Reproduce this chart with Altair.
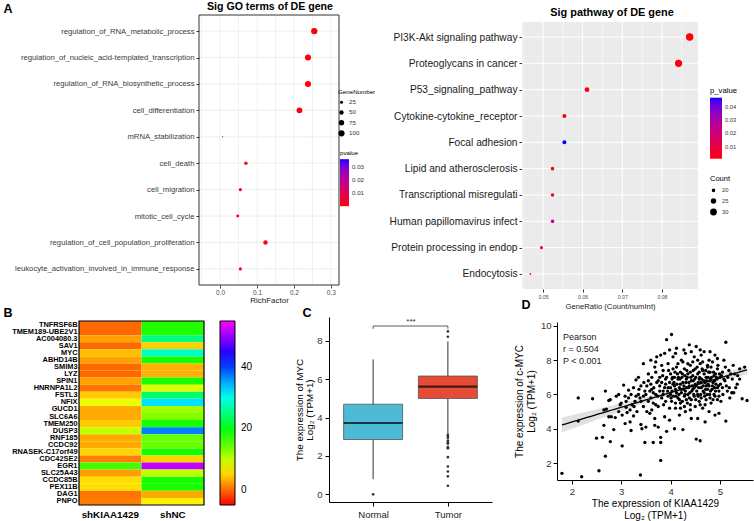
import altair as alt
import numpy as np
import pandas as pd

FONT = "Liberation Sans, Arial, Helvetica, sans-serif"

# ---------------- Panel A (left): GO terms ----------------
go_terms = [
    "regulation_of_RNA_metabolic_process",
    "regulation_of_nucleic_acid-templated_transcription",
    "regulation_of_RNA_biosynthetic_process",
    "cell_differentiation",
    "mRNA_stabilization",
    "cell_death",
    "cell_migration",
    "mitotic_cell_cycle",
    "regulation_of_cell_population_proliferation",
    "leukocyte_activation_involved_in_immune_response",
]
go_rich = [0.255, 0.238, 0.238, 0.215, 0.007, 0.070, 0.055, 0.048, 0.123, 0.055]
go_genes = [105, 98, 98, 90, 3, 30, 24, 22, 50, 24]
go_p = [0.0002, 0.0003, 0.0003, 0.0005, 0.036, 0.0008, 0.0012, 0.0015, 0.0006, 0.0010]
go_xticks = [0.0, 0.1, 0.2, 0.3]
go_grid = [-0.05, 0.0, 0.05, 0.1, 0.15, 0.2, 0.25, 0.3]

# ---------------- Panel A (right): KEGG ----------------
kegg_terms = [
    "PI3K-Akt signaling pathway",
    "Proteoglycans in cancer",
    "P53_signaling_pathway",
    "Cytokine-cytokine_receptor",
    "Focal adhesion",
    "Lipid and atherosclerosis",
    "Transcriptional misregulati",
    "Human papillomavirus infect",
    "Protein processing in endop",
    "Endocytosis",
]
kegg_ratio = [0.0870, 0.0842, 0.0611, 0.0554, 0.0554, 0.0524, 0.0524, 0.0524, 0.0496, 0.0468]
kegg_count = [33, 32, 23, 21, 21, 20, 20, 20, 19, 17]
kegg_p = [0.0012, 0.0015, 0.0020, 0.0030, 0.0468, 0.0035, 0.0035, 0.0220, 0.0040, 0.0010]
kegg_xticks = [0.05, 0.06, 0.07, 0.08]
kegg_minor = [0.045, 0.055, 0.065, 0.075, 0.085]

# ---------------- Panel B: heatmap ----------------
heat_genes = [
    "TNFRSF6B", "TMEM189-UBE2V1", "AC004080.3", "SAV1", "MYC", "ABHD14B",
    "SMIM3", "LYZ", "SPIN1", "HNRNPA1L2", "FSTL3", "NFIX", "GUCD1", "SLC6A6",
    "TMEM250", "DUSP3", "RNF185", "CCDC92", "RNASEK-C17orf49", "CDC42SE2",
    "EGR1", "SLC25A43", "CCDC85B", "PEX11B", "DAG1", "PNPO",
]
heat_groups = ["shKIAA1429", "shNC"]
heat_shKIAA = [0.0, 0.0, 2.6, 0.0, 4.0, 2.6, 0.0, 0.0, 2.6, 0.5, 4.5, 7.8, 3.0,
               3.0, 4.5, 9.6, 3.0, 3.0, 5.0, 1.0, 16.0, 2.5, 5.5, 5.5, 0.5, 1.0]
heat_shNC = [17.5, 17.5, 25.0, 4.8, 28.4, 18.0, 3.3, 3.3, 18.0, 8.4, 24.0, 32.4,
             11.4, 13.0, 18.0, 37.0, 14.0, 14.0, 18.0, 5.0, 52.0, 10.0, 18.0,
             18.0, 3.0, 6.4]
heat_ticks = [0, 20, 40]

# ---------------- Panel C: boxplot ----------------
box_groups = ["Normal", "Tumor"]
box_low = [0.79, 3.16]
box_q1 = [2.86, 5.00]
box_med = [3.72, 5.62]
box_q3 = [4.70, 6.17]
box_high = [7.04, 7.98]
box_colors = ["#4DBBD5", "#E64B35"]
normal_outliers = [0.0]
tumor_outliers = [8.22, 8.50, 3.10, 3.04, 2.95, 2.81, 2.72, 2.64, 2.46, 2.40,
                  1.94, 1.45, 1.19, 0.94, 0.45]
box_yticks = [0, 2, 4, 6, 8]

# ---------------- Panel D: scatter ----------------
kiaa_myc = [
    (1.80, 1.40), (2.20, 1.20), (2.55, 1.55), (2.13, 5.80), (2.13, 4.45), (2.42, 5.75),
    (2.50, 3.45), (2.62, 3.50), (2.65, 4.20), (2.68, 2.40), (2.65, 5.10), (2.70, 5.15),
    (2.68, 6.20), (2.75, 5.65), (2.78, 5.70), (2.80, 4.70), (2.85, 3.95), (2.88, 4.65),
    (2.90, 5.90), (2.95, 5.00), (2.95, 6.00), (2.78, 3.25), (2.75, 4.70),
    (3.02, 3.00), (3.00, 5.50), (3.05, 6.55), (3.08, 4.30), (3.10, 5.25), (3.12, 4.95),
    (3.15, 5.80), (3.15, 6.25), (3.18, 4.40), (3.20, 3.90), (3.22, 5.40), (3.25, 6.40),
    (3.25, 4.75), (3.28, 5.60), (3.30, 6.85), (3.32, 5.00), (3.35, 6.00), (3.35, 7.00),
    (3.38, 5.80), (3.40, 4.25), (3.40, 6.50), (3.45, 7.80), (3.45, 5.30), (3.48, 3.20),
    (3.48, 6.20), (3.50, 4.10), (3.39, 1.30), (3.42, 4.00),
    (3.52, 5.00), (3.55, 6.80), (3.55, 7.20), (3.58, 4.90), (3.60, 5.80), (3.60, 8.00),
    (3.62, 6.30), (3.65, 3.20), (3.65, 5.50), (3.68, 7.60), (3.68, 4.20), (3.70, 6.00),
    (3.72, 8.20), (3.72, 6.70), (3.75, 4.10), (3.75, 5.30), (3.78, 6.50), (3.78, 7.00),
    (3.80, 3.50), (3.80, 3.20), (3.80, 2.15), (3.80, 8.30), (3.82, 5.80), (3.85, 6.20),
    (3.85, 7.40), (3.88, 4.70), (3.88, 8.40), (3.90, 5.60), (3.90, 6.90), (3.92, 3.85),
    (3.92, 9.20), (3.95, 6.40), (3.95, 7.80), (3.98, 5.20), (3.98, 8.60), (3.98, 4.50),
    (4.00, 6.00), (4.00, 7.20), (4.02, 9.50), (4.02, 5.60), (4.05, 6.60), (4.05, 8.20),
    (4.08, 4.00), (4.08, 7.00), (4.10, 5.20), (4.10, 6.30), (4.12, 7.60), (4.12, 8.70),
    (4.15, 5.80), (4.15, 6.90), (4.18, 6.40), (4.18, 4.80), (4.20, 7.30), (4.20, 5.50),
    (4.22, 8.00), (4.22, 6.10), (4.25, 6.70), (4.25, 3.95), (4.28, 7.50), (4.28, 5.30),
    (4.30, 6.20), (4.30, 8.40), (4.32, 6.90), (4.32, 5.70), (4.35, 7.20), (4.35, 6.00),
    (4.38, 8.90), (4.38, 6.50), (4.40, 7.70), (4.40, 5.40), (4.42, 6.80), (4.42, 4.60),
    (4.45, 7.10), (4.45, 6.30), (4.48, 8.20), (4.48, 5.90), (4.50, 6.60), (4.50, 7.50),
    (4.52, 3.40), (4.55, 6.00), (4.55, 4.60), (4.60, 3.30),
    (4.52, 8.80), (4.55, 7.20), (4.58, 5.60), (4.58, 6.90), (4.60, 7.80), (4.62, 6.40),
    (4.62, 8.30), (4.65, 5.20), (4.65, 7.40), (4.68, 6.10), (4.68, 8.50), (4.70, 6.70),
    (4.70, 4.40), (4.72, 7.00), (4.72, 5.70), (4.75, 7.60), (4.75, 6.30), (4.78, 8.00),
    (4.78, 5.00), (4.80, 6.80), (4.80, 7.30), (4.82, 5.50), (4.85, 6.50), (4.85, 7.90),
    (4.88, 6.00), (4.88, 7.10), (4.90, 4.80), (4.90, 8.30), (4.92, 6.60), (4.95, 7.50),
    (4.95, 5.70), (4.98, 6.20), (4.98, 4.90),
    (5.00, 7.00), (5.02, 5.60), (5.05, 7.30), (5.05, 6.40), (5.08, 8.00), (5.10, 6.80),
    (5.12, 4.45), (5.12, 9.05), (5.15, 6.20), (5.18, 7.40), (5.20, 5.80), (5.25, 6.90),
    (5.30, 7.20), (5.35, 6.60), (5.40, 7.50), (5.40, 6.90), (5.45, 5.75), (5.50, 7.60),
    (5.55, 5.65), (5.28, 6.10),
    (3.85, 6.00), (3.90, 6.60), (3.95, 5.90), (4.00, 6.40), (4.03, 6.90), (4.06, 5.90),
    (4.08, 6.50), (4.12, 6.10), (4.14, 7.20), (4.17, 6.00), (4.20, 6.60), (4.23, 7.00),
    (4.26, 6.30), (4.28, 5.90), (4.31, 6.70), (4.33, 7.40), (4.36, 6.40), (4.38, 5.80),
    (4.41, 7.00), (4.43, 6.20), (4.46, 6.80), (4.48, 6.40), (4.51, 7.00), (4.53, 6.20),
    (4.56, 6.70), (4.58, 7.30), (4.61, 6.00), (4.63, 6.90), (4.66, 6.50), (4.68, 7.20),
    (4.71, 6.30), (4.73, 6.80), (4.76, 7.00), (4.78, 6.50), (4.81, 6.20), (4.83, 7.00),
    (4.86, 6.70), (4.89, 6.40), (4.91, 7.20), (4.94, 6.90), (4.97, 6.50), (4.99, 7.20),
    (4.05, 7.50), (4.15, 7.80), (4.25, 7.90), (4.35, 7.80), (4.45, 7.90), (4.55, 8.00),
    (4.65, 7.90), (4.75, 7.70), (4.10, 5.50), (4.20, 5.20), (4.30, 5.00), (4.40, 5.10),
    (4.50, 5.30), (4.60, 5.40), (4.70, 5.40), (4.80, 5.80), (4.90, 5.90), (3.70, 5.40),
    (3.75, 6.80), (3.65, 6.10), (3.60, 6.60), (3.55, 5.60), (3.50, 6.00), (3.45, 5.90),
    (3.40, 5.60), (3.30, 5.90), (3.20, 6.00), (3.10, 5.60),
    (3.62, 7.00), (3.66, 6.40), (3.70, 7.30), (3.74, 5.90), (3.78, 6.20), (3.82, 6.70),
    (3.84, 7.10), (3.86, 5.40), (3.88, 6.40), (3.92, 7.00), (3.94, 6.20), (3.96, 7.40),
    (3.98, 6.70), (4.01, 5.80), (4.03, 6.20), (4.04, 7.00), (4.07, 6.70), (4.09, 7.30),
    (4.11, 5.90), (4.13, 6.60), (4.16, 7.00), (4.18, 5.70), (4.19, 6.90), (4.21, 6.30),
    (4.24, 7.20), (4.24, 5.60), (4.27, 6.50), (4.29, 7.10), (4.29, 6.00), (4.32, 6.40),
    (4.34, 5.50), (4.34, 7.00), (4.37, 6.70), (4.39, 6.10), (4.40, 7.30), (4.42, 5.70),
    (4.44, 6.50), (4.46, 7.40), (4.47, 6.00), (4.49, 6.90), (4.51, 5.70), (4.52, 6.50),
    (4.54, 7.60), (4.56, 5.90), (4.57, 6.40), (4.59, 7.00), (4.61, 6.70), (4.62, 5.80),
    (4.64, 7.50), (4.66, 6.20), (4.67, 6.80), (4.69, 5.90), (4.71, 7.40), (4.72, 6.50),
    (4.74, 6.00), (4.76, 6.60), (4.77, 7.30), (4.79, 6.00), (4.81, 6.90), (4.82, 7.60),
    (4.84, 6.30), (4.86, 5.70), (4.87, 7.30), (4.89, 6.80), (4.91, 6.20), (4.93, 7.00),
    (4.95, 6.40), (4.96, 7.70), (4.98, 5.90), (5.01, 6.60), (5.03, 7.10), (5.06, 6.00),
    (5.08, 6.90), (5.11, 7.60), (5.13, 6.50), (5.16, 7.00), (5.19, 6.40), (5.22, 7.20),
    (5.24, 6.10), (5.27, 7.70), (5.32, 6.40), (5.36, 7.10), (4.10, 8.40), (4.27, 8.60),
    (4.42, 8.50), (4.60, 8.60), (4.80, 8.50), (4.95, 8.10), (3.82, 7.70), (3.70, 7.90),
    (3.62, 5.10), (3.68, 4.60), (3.58, 6.20), (3.52, 6.50), (3.46, 6.70), (3.36, 6.30),
    (3.26, 5.30), (3.18, 5.10), (3.08, 5.90), (3.02, 4.80), (2.98, 5.40),
]
sc_xticks = [2, 3, 4, 5]
sc_yticks = [2, 4, 6, 8, 10]
pearson_lines = ["Pearson", "r = 0.504", "P < 0.001"]


# ---------------- helpers ----------------
def text_mark(s, x, y, size, weight="normal", align="center", color="black"):
    return alt.Chart(pd.DataFrame({"t": [s]})).mark_text(
        align=align, baseline="middle", fontSize=size, fontWeight=weight,
        color=color, font=FONT,
    ).encode(text="t:N", x=alt.value(x), y=alt.value(y))


def rect(x1, x2, y1, y2, fill, fill_opacity, stroke, sw):
    return alt.Chart(pd.DataFrame({"a": [0]})).mark_rect(
        fill=fill, fillOpacity=fill_opacity, stroke=stroke, strokeWidth=sw,
    ).encode(x=alt.value(x1), x2=alt.value(x2), y=alt.value(y1), y2=alt.value(y2))


# ================= GO panel =================
go_df = pd.DataFrame({"term": go_terms, "rich": go_rich, "genes": go_genes, "p": go_p})
go_xs = alt.Scale(domain=[-0.057, 0.322], range=[199, 339], nice=False, zero=False)
go_ys = alt.Scale(type="point", domain=go_terms, range=[15, 285], padding=0.61)
go_xaxis = alt.Axis(
    orient="bottom", offset=-236, values=go_xticks, format=".1f", title="RichFactor",
    labelFontSize=6.5, labelColor="#4D4D4D", tickColor="#4D4D4D", tickSize=3,
    labelPadding=1, domain=False, grid=False, titleFontSize=8, titleFontWeight="normal",
    titlePadding=1, titleColor="#222222", labelFlush=False)
go_yaxis = alt.Axis(
    orient="left", offset=-199, title=None, labelFontSize=7.7, labelColor="#3A3A3A",
    tickColor="#333333", tickSize=3, labelPadding=2, domain=False, labelLimit=400, grid=False)

go_vgrid = alt.Chart(pd.DataFrame({"rich": go_grid})).mark_rule(
    color="#EBEBEB", strokeWidth=0.7
).encode(x=alt.X("rich:Q", scale=go_xs, axis=go_xaxis), y=alt.value(15), y2=alt.value(285))
go_hgrid = alt.Chart(go_df).mark_rule(color="#EBEBEB", strokeWidth=0.9).encode(
    y=alt.Y("term:N", scale=go_ys, axis=go_yaxis), x=alt.value(199), x2=alt.value(339)
)
go_pts = alt.Chart(go_df).mark_circle(opacity=1).encode(
    x=alt.X("rich:Q", scale=go_xs, axis=go_xaxis),
    y=alt.Y("term:N", scale=go_ys, axis=go_yaxis),
    size=alt.Size("genes:Q", scale=alt.Scale(domain=[0, 110], range=[0, 42]),
                  legend=alt.Legend(title="GeneNumber", orient="none", legendX=338, legendY=89,
                                    direction="vertical", values=[25, 50, 75, 100],
                                    titleFontSize=6.2, labelFontSize=6.2, titleFontWeight="normal",
                                    symbolFillColor="black", symbolStrokeWidth=0, symbolOpacity=1,
                                    symbolType="circle", rowPadding=3.2, titlePadding=4,
                                    labelColor="#333333", labelOffset=4)),
    color=alt.Color("p:Q", scale=alt.Scale(domain=[0, 0.036], range=["#FF0000", "#0000FF"],
                                           interpolate="lab"),
                    legend=alt.Legend(title="pvalue", orient="none", legendX=340, legendY=150,
                                      direction="vertical", gradientLength=47, gradientThickness=9,
                                      values=[0.01, 0.02, 0.03], format=".2f", titleFontSize=6.2,
                                      labelFontSize=6.2, titleFontWeight="normal",
                                      labelColor="#333333", titlePadding=3, labelOffset=3,
                                      gradientStrokeWidth=0)),
)
go_frame = rect(199, 339, 15, 285, "white", 0, "#333333", 1)
go_panel = alt.layer(go_vgrid, go_hgrid, go_pts, go_frame)

# ================= KEGG panel =================
kegg_df = pd.DataFrame({"term": kegg_terms, "ratio": kegg_ratio, "count": kegg_count, "p": kegg_p})
kg_xs = alt.Scale(domain=[0.0447, 0.0891], range=[522, 698], nice=False, zero=False)
kg_ys = alt.Scale(type="point", domain=kegg_terms, range=[22, 289], padding=0.57)
kg_xaxis = alt.Axis(
    orient="bottom", offset=-232, values=kegg_xticks, format=".2f",
    title="GeneRatio (Count/numInt)", labelFontSize=5.2, labelColor="#4D4D4D",
    tickColor="#333333", tickSize=3, labelPadding=2, domain=False, grid=False,
    titleFontSize=7.7, titleFontWeight="normal", titlePadding=3, titleColor="#222222",
    labelFlush=False)
kg_yaxis = alt.Axis(
    orient="left", offset=-522, title=None, labelFontSize=10.2, labelColor="#1A1A1A",
    tickColor="#333333", tickSize=3, labelPadding=2, domain=False, labelLimit=400, grid=False)

kg_bg = rect(522, 698, 22, 289, "#EBEBEB", 1, "#EBEBEB", 0)
kg_minor = alt.Chart(pd.DataFrame({"ratio": kegg_minor})).mark_rule(
    color="white", strokeWidth=0.5
).encode(x=alt.X("ratio:Q", scale=kg_xs, axis=kg_xaxis), y=alt.value(22), y2=alt.value(289))
kg_major = alt.Chart(pd.DataFrame({"ratio": kegg_xticks})).mark_rule(
    color="white", strokeWidth=1
).encode(x=alt.X("ratio:Q", scale=kg_xs, axis=kg_xaxis), y=alt.value(22), y2=alt.value(289))
kg_hgrid = alt.Chart(kegg_df).mark_rule(color="white", strokeWidth=1).encode(
    y=alt.Y("term:N", scale=kg_ys, axis=kg_yaxis), x=alt.value(522), x2=alt.value(698)
)
kg_pts = alt.Chart(kegg_df).mark_circle(opacity=1).encode(
    x=alt.X("ratio:Q", scale=kg_xs, axis=kg_xaxis),
    y=alt.Y("term:N", scale=kg_ys, axis=kg_yaxis),
    size=alt.Size("count:Q", scale=alt.Scale(domain=[17, 33], range=[3, 56], zero=False),
                  legend=alt.Legend(title="Count", orient="none", legendX=710, legendY=175,
                                    direction="vertical", values=[20, 25, 30],
                                    titleFontSize=7.5, labelFontSize=5.8, titleFontWeight="normal",
                                    symbolFillColor="black", symbolStrokeWidth=0, symbolOpacity=1,
                                    symbolType="circle", rowPadding=4.5, titlePadding=5,
                                    labelColor="#333333", labelOffset=5)),
    color=alt.Color("p:Q", scale=alt.Scale(domain=[0.001, 0.0468], range=["#FF0000", "#0000FF"],
                                           interpolate="lab"),
                    legend=alt.Legend(title="p_value", orient="none", legendX=710, legendY=87,
                                      direction="vertical", gradientLength=61, gradientThickness=12,
                                      values=[0.01, 0.02, 0.03, 0.04], format=".2f",
                                      titleFontSize=7.7, labelFontSize=5.8, titleFontWeight="normal",
                                      labelColor="#333333", titlePadding=3, labelOffset=3,
                                      gradientStrokeWidth=0)),
)
kegg_panel = alt.layer(kg_bg, kg_minor, kg_major, kg_hgrid, kg_pts)

# ================= Heatmap panel =================
heat_df = pd.DataFrame({
    "gene": heat_genes * 2,
    "group": [heat_groups[0]] * len(heat_genes) + [heat_groups[1]] * len(heat_genes),
    "v": heat_shKIAA + heat_shNC,
})
heat = alt.Chart(heat_df).mark_rect(strokeWidth=0).encode(
    x=alt.X("group:N", scale=alt.Scale(type="band", domain=heat_groups, range=[79, 204],
                                        paddingInner=0, paddingOuter=0),
            axis=alt.Axis(orient="bottom", offset=-16, title=None, labelFontSize=9.8,
                          labelFontWeight="bold", labelColor="black", ticks=False,
                          domain=False, labelPadding=4, labelAngle=0)),
    y=alt.Y("gene:N", scale=alt.Scale(type="band", domain=heat_genes, range=[321, 505],
                                       paddingInner=0, paddingOuter=0),
            axis=alt.Axis(orient="left", offset=-79, title=None, labelFontSize=7.4,
                          labelFontWeight="bold", labelColor="black", ticks=False,
                          domain=False, labelPadding=2, labelLimit=400)),
    color=alt.Color("v:Q", scale=alt.Scale(
        domain=[-5, 7, 19, 31, 43, 55],
        range=["#FF0000", "#FFFF00", "#00FF00", "#00FFFF", "#0000FF", "#FF00FF"],
        interpolate="rgb"),
        legend=alt.Legend(title=None, orient="none", legendX=220, legendY=321,
                          direction="vertical", gradientLength=184, gradientThickness=15,
                          values=heat_ticks, labelFontSize=10, labelColor="black",
                          labelOffset=6, gradientStrokeColor="black", gradientStrokeWidth=1)),
)
heat_frame = rect(79, 204, 321, 505, "white", 0, "black", 1.2)
heat_panel = alt.layer(heat, heat_frame)

# ================= Boxplot panel =================
box_df = pd.DataFrame({"group": box_groups, "low": box_low, "q1": box_q1, "med": box_med,
                       "q3": box_q3, "high": box_high})
out_df = pd.DataFrame({
    "group": ["Normal"] * len(normal_outliers) + ["Tumor"] * len(tumor_outliers),
    "val": normal_outliers + tumor_outliers,
})
br_df = pd.DataFrame({"group": ["Normal", "Normal", "Tumor", "Tumor"],
                      "by": [8.63, 8.78, 8.78, 8.63], "o": [0, 1, 2, 3]})
c_xs = alt.Scale(type="point", domain=box_groups, range=[329, 492], padding=0.59)
c_ys = alt.Scale(domain=[-0.4, 9.25], range=[502, 317], nice=False, zero=False)
c_xaxis = alt.Axis(
    orient="bottom", offset=-19, title=None, labelFontSize=9.5, labelColor="#222222",
    tickColor="black", tickSize=4, domainColor="black", labelAngle=0, labelPadding=3,
    grid=False)
c_yaxis = alt.Axis(
    orient="left", offset=-329, values=box_yticks, title=["The expression of MYC", "Log₂ (TPM+1)"],
    titleFontSize=9.8, titleFontWeight="normal", titleColor="black", titlePadding=2,
    titleLineHeight=10, labelFontSize=9.5, labelColor="#333333", tickColor="black", tickSize=4,
    domainColor="black", labelPadding=3, grid=False)

whisk = alt.Chart(box_df).mark_rule(color="#333333", strokeWidth=1).encode(
    x=alt.X("group:N", scale=c_xs, axis=c_xaxis),
    y=alt.Y("low:Q", scale=c_ys, axis=c_yaxis),
    y2="high:Q",
)
boxes = alt.Chart(box_df).mark_bar(size=59, stroke="#555555", strokeWidth=0.8).encode(
    x=alt.X("group:N", scale=c_xs, axis=c_xaxis),
    y=alt.Y("q1:Q", scale=c_ys, axis=c_yaxis),
    y2="q3:Q",
    color=alt.Color("group:N", scale=alt.Scale(domain=box_groups, range=box_colors), legend=None),
)
meds = alt.Chart(box_df).mark_tick(size=59, thickness=2.2, color="black").encode(
    x=alt.X("group:N", scale=c_xs, axis=c_xaxis),
    y=alt.Y("med:Q", scale=c_ys, axis=c_yaxis),
)
outs = alt.Chart(out_df).mark_circle(size=7, color="#333333", opacity=1).encode(
    x=alt.X("group:N", scale=c_xs, axis=c_xaxis),
    y=alt.Y("val:Q", scale=c_ys, axis=c_yaxis),
)
bracket = alt.Chart(br_df).mark_line(color="#333333", strokeWidth=0.8).encode(
    x=alt.X("group:N", scale=c_xs, axis=c_xaxis),
    y=alt.Y("by:Q", scale=c_ys, axis=c_yaxis),
    order="o:Q",
)
box_panel = alt.layer(whisk, boxes, meds, outs, bracket)

# ================= Scatter panel =================
sx = np.array([p[0] for p in kiaa_myc])
sy = np.array([p[1] for p in kiaa_myc])
slope, intercept = np.polyfit(sx, sy, 1)
grid_x = np.linspace(sx.min(), sx.max(), 60)
fit_y = intercept + slope * grid_x
n = len(sx)
resid = sy - (intercept + slope * sx)
s_err = np.sqrt(np.sum(resid ** 2) / (n - 2))
sxx = np.sum((sx - sx.mean()) ** 2)
se = s_err * np.sqrt(1.0 / n + (grid_x - sx.mean()) ** 2 / sxx)
fit_df = pd.DataFrame({"x": grid_x, "y": fit_y, "lo": fit_y - 1.97 * se, "hi": fit_y + 1.97 * se})
pts_df = pd.DataFrame({"x": sx, "y": sy})

d_xs = alt.Scale(domain=[1.7, 5.67], range=[557, 753], nice=False, zero=False)
d_ys = alt.Scale(domain=[1.01, 10.23], range=[480, 322], nice=False, zero=False)
d_xaxis = alt.Axis(
    orient="bottom", offset=-41, values=sc_xticks, format="d",
    title=["The expression of KIAA1429", "Log₂ (TPM+1)"], titleFontSize=10,
    titleFontWeight="normal", titleColor="black", titlePadding=3, labelFontSize=9.5,
    labelColor="#333333", tickColor="black", tickSize=4, domainColor="black",
    labelPadding=2, grid=False, labelFlush=False)
d_yaxis = alt.Axis(
    orient="left", offset=-557, values=sc_yticks, format="d",
    title=["The expression of c-MYC", "Log₂ (TPM+1)"], titleFontSize=10,
    titleFontWeight="normal", titleColor="black", titlePadding=4, labelFontSize=9.5,
    labelColor="#333333", tickColor="black", tickSize=4, domainColor="black",
    labelPadding=2, grid=False, labelFlush=False)

band = alt.Chart(fit_df).mark_area(color="#BDBDBD", opacity=0.45).encode(
    x=alt.X("x:Q", scale=d_xs, axis=d_xaxis),
    y=alt.Y("lo:Q", scale=d_ys, axis=d_yaxis),
    y2="hi:Q",
)
fit_line = alt.Chart(fit_df).mark_line(color="black", strokeWidth=1.3).encode(
    x=alt.X("x:Q", scale=d_xs, axis=d_xaxis),
    y=alt.Y("y:Q", scale=d_ys, axis=d_yaxis),
)
dots = alt.Chart(pts_df).mark_circle(size=11, color="black", opacity=1).encode(
    x=alt.X("x:Q", scale=d_xs, axis=d_xaxis),
    y=alt.Y("y:Q", scale=d_ys, axis=d_yaxis),
)
sc_panel = alt.layer(band, dots, fit_line)

# ================= Texts =================
texts = [
    text_mark("A", 8, 9, 12.5, "bold"),
    text_mark("B", 8, 313, 12.5, "bold"),
    text_mark("C", 307, 313, 12.5, "bold"),
    text_mark("D", 526, 305, 12.5, "bold"),
    text_mark("Sig GO terms of DE gene", 270, 7, 10.6, "bold"),
    text_mark("Sig pathway of DE gene", 612, 13, 10.9, "bold"),
    text_mark("***", 411, 322, 8, "normal", "center", "#333333"),
    text_mark(pearson_lines[0], 563, 337, 9, "normal", "left", "#222222"),
    text_mark(pearson_lines[1], 563, 349, 9, "normal", "left", "#222222"),
    text_mark(pearson_lines[2], 563, 361, 9, "normal", "left", "#222222"),
]

chart = alt.layer(go_panel, kegg_panel, heat_panel, box_panel, sc_panel, *texts).resolve_scale(
    x="independent", y="independent", color="independent", size="independent"
).properties(
    width=754, height=521, autosize=alt.AutoSizeParams(type="none"), padding=0,
    background="white",
).configure(font=FONT).configure_view(strokeOpacity=0)

chart.save("out.html", embed_options={"renderer": "svg", "actions": False})
